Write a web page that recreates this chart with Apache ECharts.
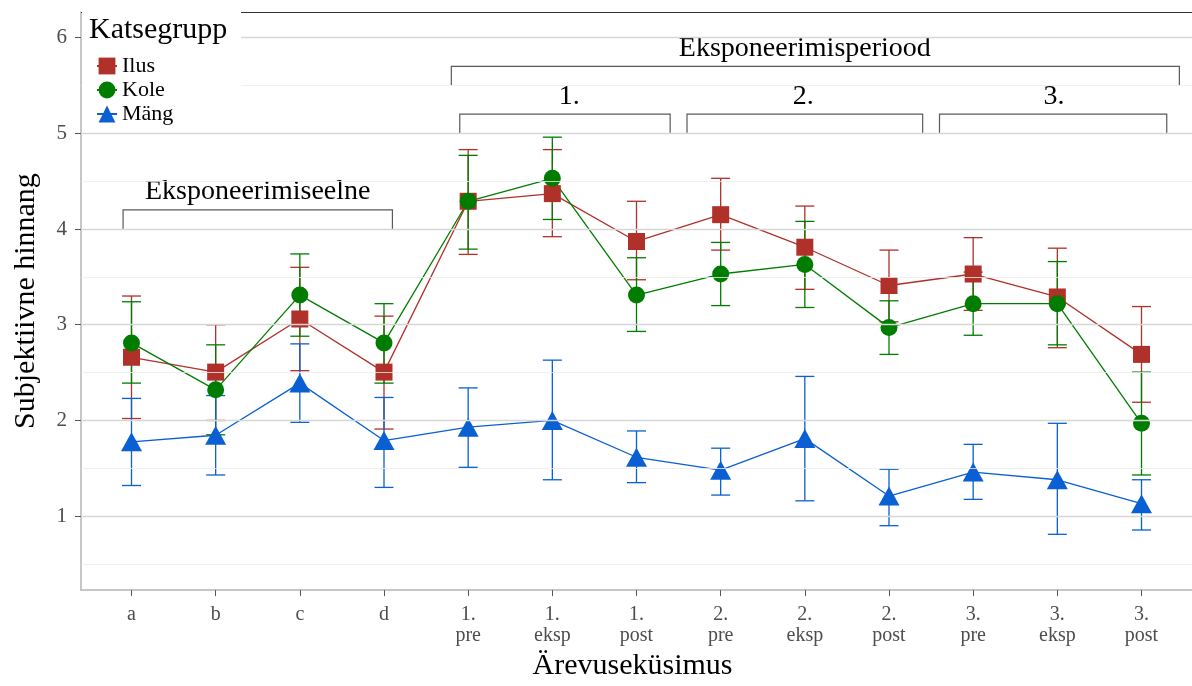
<!DOCTYPE html>
<html>
<head>
<meta charset="utf-8">
<script src="https://cdn.jsdelivr.net/npm/echarts@6/dist/echarts.min.js"></script>
<style>
  html, body { margin: 0; padding: 0; background: #fff; }
  #chart { width: 1192px; height: 686px; }
</style>
</head>
<body>
<div id="chart"></div>
<script>
// categories on the x axis (index 0..12)
const categories = ['a', 'b', 'c', 'd', '1.\npre', '1.\neksp', '1.\npost', '2.\npre', '2.\neksp', '2.\npost', '3.\npre', '3.\neksp', '3.\npost'];
const yTicks = [1, 2, 3, 4, 5, 6];

// Ilus
const ilusMean = [2.66, 2.505, 3.06, 2.505, 4.29, 4.37, 3.87, 4.15, 3.81, 3.41, 3.53, 3.29, 2.69];
const ilusLow  = [2.02, 2.0, 2.52, 1.91, 3.735, 3.92, 3.47, 3.78, 3.37, 3.03, 3.15, 2.76, 2.19];
const ilusHigh = [3.30, 3.0, 3.60, 3.09, 4.83, 4.83, 4.29, 4.53, 4.24, 3.78, 3.91, 3.80, 3.19];
// Kole
const koleMean = [2.81, 2.32, 3.31, 2.81, 4.29, 4.53, 3.31, 3.53, 3.63, 2.97, 3.22, 3.22, 1.97];
const koleLow  = [2.39, 1.85, 2.88, 2.39, 3.79, 4.10, 2.93, 3.20, 3.18, 2.69, 2.89, 2.79, 1.43];
const koleHigh = [3.24, 2.79, 3.74, 3.22, 4.77, 4.96, 3.70, 3.86, 4.08, 3.25, 3.55, 3.66, 2.505];
// Mäng
const mangMean = [1.776, 1.845, 2.39, 1.79, 1.93, 2.00, 1.615, 1.48, 1.81, 1.21, 1.46, 1.38, 1.13];
const mangLow  = [1.32, 1.43, 1.98, 1.30, 1.51, 1.38, 1.35, 1.22, 1.16, 0.90, 1.175, 0.81, 0.855];
const mangHigh = [2.23, 2.26, 2.80, 2.24, 2.34, 2.63, 1.89, 1.71, 2.46, 1.49, 1.75, 1.97, 1.38];

// bracket annotations (data coords)
const brackets = [
  { text: 'Eksponeerimiseelne',   x0: -0.1, x1: 3.1,   y0: 4.0, y1: 4.2, tx: 1.5,  ty: 4.39 },
  { text: 'Eksponeerimisperiood', x0: 3.8,  x1: 12.45, y0: 5.5, y1: 5.7, tx: 8.0,  ty: 5.89 },
  { text: '1.', x0: 3.9,  x1: 6.4,  y0: 5.0, y1: 5.2, tx: 5.2,  ty: 5.38 },
  { text: '2.', x0: 6.6,  x1: 9.4,  y0: 5.0, y1: 5.2, tx: 7.98, ty: 5.38 },
  { text: '3.', x0: 9.6,  x1: 12.3, y0: 5.0, y1: 5.2, tx: 10.96, ty: 5.38 }
];

const FONT = '"Liberation Serif", "DejaVu Serif", serif';
const RED = '#B0302A', GREEN = '#007D00', BLUE = '#0A5FD2';

function pts(mean) { return mean.map((v, i) => [i, v]); }
function bars(lo, hi) { return lo.map((v, i) => [i, v, hi[i]]); }

function errorBarSeries(name, lo, hi, color) {
  return {
    name: name + ' err',
    type: 'custom',
    z: 2,
    silent: true,
    data: bars(lo, hi),
    encode: { x: 0, y: [1, 2] },
    renderItem: function (params, api) {
      const x = api.value(0);
      const a = api.coord([x, api.value(1)]);
      const b = api.coord([x, api.value(2)]);
      const w = 9.5;
      const st = { stroke: color, lineWidth: 1.3 };
      return {
        type: 'group',
        children: [
          { type: 'line', shape: { x1: a[0], y1: a[1], x2: b[0], y2: b[1] }, style: st },
          { type: 'line', shape: { x1: a[0] - w, y1: a[1], x2: a[0] + w, y2: a[1] }, style: st },
          { type: 'line', shape: { x1: b[0] - w, y1: b[1], x2: b[0] + w, y2: b[1] }, style: st }
        ]
      };
    }
  };
}

function lineSeries(name, mean, color, symbol, size) {
  return {
    name: name,
    type: 'line',
    z: 3,
    data: pts(mean),
    symbol: symbol,
    symbolSize: size,
    showAllSymbol: true,
    lineStyle: { color: color, width: 1.3 },
    itemStyle: { color: color },
    emphasis: { disabled: true }
  };
}

// horizontal grid lines, major on whole numbers, minor between
const gridLines = [];
for (let v = 0.5; v <= 6.01; v += 0.5) {
  const major = Math.abs(v - Math.round(v)) < 1e-6;
  gridLines.push({
    yAxis: v,
    lineStyle: major ? { color: '#d6d6d6', width: 1.3, type: 'solid' } : { color: '#ececec', width: 0.8, type: 'solid' }
  });
}

const chart = echarts.init(document.getElementById('chart'), null, { renderer: 'canvas' });

const option = {
  animation: false,
  backgroundColor: '#fff',
  grid: { left: 81, top: 12, width: 1118, height: 586, containLabel: false },
  xAxis: {
    type: 'value',
    min: -0.6,
    max: 12.6,
    name: 'Ärevuseküsimus',
    nameLocation: 'middle',
    nameGap: 60,
    nameTextStyle: { fontFamily: FONT, fontSize: 30, color: '#000', padding: [0, 8, 0, 0] },
    axisLine: { show: true, onZero: false, lineStyle: { color: '#b5b5b5', width: 1.5 } },
    axisTick: { show: true, customValues: categories.map((c, i) => i), length: 6, lineStyle: { color: '#555' } },
    axisLabel: {
      customValues: categories.map((c, i) => i),
      formatter: function (v) { return categories[Math.round(v)]; },
      fontFamily: FONT, fontSize: 20, color: '#4d4d4d', lineHeight: 21, margin: 14
    },
    splitLine: { show: false }
  },
  yAxis: {
    type: 'value',
    min: 0.227,
    max: 6.268,
    name: 'Subjektiivne hinnang',
    nameLocation: 'middle',
    nameGap: 40,
    nameTextStyle: { fontFamily: FONT, fontSize: 30, color: '#000' },
    axisLine: { show: true, onZero: false, lineStyle: { color: '#b5b5b5', width: 1.5 } },
    axisTick: { show: true, customValues: yTicks, length: 6, lineStyle: { color: '#555' } },
    axisLabel: { customValues: yTicks, fontFamily: FONT, fontSize: 21, color: '#4d4d4d', margin: 14 },
    splitLine: { show: false }
  },
  legend: {
    orient: 'vertical',
    left: 91,
    top: 50,
    z: 20,
    itemWidth: 20,
    itemHeight: 21,
    itemGap: 2,
    data: ['Ilus', 'Kole', 'Mäng'],
    textStyle: { fontFamily: FONT, fontSize: 22, color: '#000', lineHeight: 20 }
  },
  graphic: [
    { type: 'line', z: 9, shape: { x1: 81, y1: 12.5, x2: 1192, y2: 12.5 }, style: { stroke: '#333', lineWidth: 1.2 } },
    { type: 'rect', z: 10, shape: { x: 82, y: 10, width: 159, height: 115 }, style: { fill: '#fff' } },
    { type: 'text', z: 11, left: 89, top: 15, style: { text: 'Katsegrupp', font: '30px ' + FONT, fill: '#000' } }
  ],
  series: [
    {
      name: 'grid',
      type: 'line',
      z: 1,
      silent: true,
      data: [],
      markLine: { silent: true, symbol: ['none', 'none'], label: { show: false }, animation: false, data: gridLines }
    },
    {
      name: 'brackets',
      type: 'custom',
      z: 1,
      silent: true,
      data: brackets.map(b => [b.x0, b.x1, b.y0, b.y1]),
      encode: { x: [0, 1], y: [2, 3] },
      renderItem: function (params, api) {
        const b = brackets[params.dataIndex];
        const p0 = api.coord([b.x0, b.y0]);
        const p1 = api.coord([b.x0, b.y1]);
        const p2 = api.coord([b.x1, b.y1]);
        const p3 = api.coord([b.x1, b.y0]);
        const t = api.coord([b.tx, b.ty]);
        return {
          type: 'group',
          children: [
            { type: 'polyline', shape: { points: [p0, p1, p2, p3] }, style: { stroke: '#5a5a5a', lineWidth: 1.2, fill: null } },
            { type: 'text', x: t[0], y: t[1], style: { text: b.text, font: '28px ' + FONT, fill: '#000', align: 'center', verticalAlign: 'middle' } }
          ]
        };
      }
    },
    errorBarSeries('Ilus', ilusLow, ilusHigh, RED),
    errorBarSeries('Kole', koleLow, koleHigh, GREEN),
    errorBarSeries('Mäng', mangLow, mangHigh, BLUE),
    lineSeries('Ilus', ilusMean, RED, 'rect', 17),
    lineSeries('Kole', koleMean, GREEN, 'circle', 17),
    lineSeries('Mäng', mangMean, BLUE, 'triangle', [21, 19])
  ]
};

chart.setOption(option);
</script>
</body>
</html>
